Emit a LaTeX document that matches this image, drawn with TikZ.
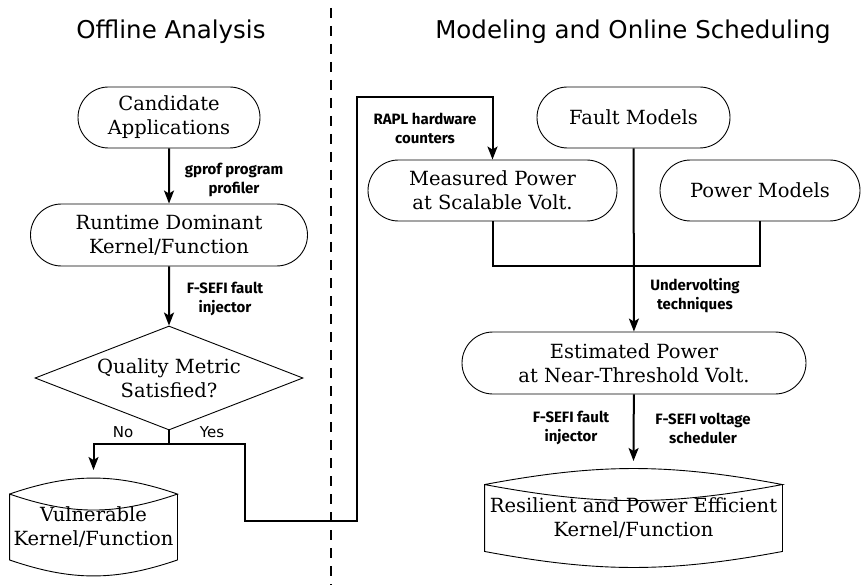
\documentclass[tikz,border=0pt]{standalone}
\usepackage{fontspec}
\setmainfont{DejaVu Serif}
\setsansfont{DejaVu Sans}
\newfontfamily\notefont{Fira Sans}
\usetikzlibrary{arrows.meta,shapes.misc,shapes.geometric}

\tikzset{
  box/.style={draw, line width=0.9pt, align=center, inner sep=0pt,
    font=\fontsize{19.5}{24}\selectfont},
  stadium/.style={box, rounded rectangle},
  decision/.style={box, diamond, aspect=2.58},
  store/.style={box, rectangle, draw=none},
  link/.style={line width=2pt},
  flow/.style={link, -{Stealth[length=13pt,width=10pt,inset=3pt]}},
  note/.style={align=center, font=\notefont\bfseries\fontsize{15}{19}\selectfont},
  branch/.style={font=\sffamily\fontsize{15}{18}\selectfont},
  heading/.style={font=\sffamily\fontsize{24.5}{28}\selectfont},
}

\begin{document}
\begin{tikzpicture}[x=1pt,y=-1pt]
  \useasboundingbox (0,0) rectangle (861,585);

  % the two halves
  \node[heading] (offline) at (171,32) {Offline Analysis};
  \node[heading] (online) at (633,32) {Modeling and Online Scheduling};
  \draw[line width=2pt, dash pattern=on 10pt off 8pt] (331,8) -- (331,585);

  % offline side
  \node[stadium, minimum width=182pt, minimum height=61pt] (cand) at (169,117.5) {Candidate\\Applications};
  \node[stadium, minimum width=277pt, minimum height=62pt] (runtime) at (169,235) {Runtime Dominant\\Kernel/Function};
  \node[decision, minimum width=268pt, minimum height=104pt] (quality) at (169,378) {Quality Metric\\Satisfied?};
  \node[store, minimum width=167pt, minimum height=65pt] (vuln) at (93.5,527) {Vulnerable\\Kernel/Function};

  % online side
  \node[stadium, minimum width=193pt, minimum height=61pt] (fault) at (633.5,117.5) {Fault Models};
  \node[stadium, minimum width=249pt, minimum height=61pt] (measured) at (492.5,190.5) {Measured Power\\at Scalable Volt.};
  \node[stadium, minimum width=200pt, minimum height=61pt] (power) at (760,190.5) {Power Models};
  \node[stadium, minimum width=344pt, minimum height=62pt] (estimated) at (634,363) {Estimated Power\\at Near-Threshold Volt.};
  \node[store, minimum width=297pt, minimum height=66pt] (resil) at (633.5,518) {Resilient and Power Efficient\\Kernel/Function};

  % curved tops and bottoms of the stores, lifted above the text
  \foreach \n/\b/\up in {vuln/19/7.5,resil/10.6/8}{
    \draw[line width=0.9pt, shift={(0,-\up)}] (\n.north west) to[bend left=\b] (\n.north east)
      to[bend left=\b] (\n.north west) -- (\n.south west)
      to[bend right=\b] (\n.south east) -- (\n.north east);
  }
  \coordinate (vtop) at (93.5,470);
  \coordinate (rtop) at (633.5,461);

  % connectors
  \coordinate (split) at (169,444);
  \coordinate (yesdrop) at (245,521);
  \coordinate (rapl) at (357,97);
  \draw[flow] (cand) -- (runtime);
  \draw[flow] (runtime) -- (quality);
  \draw[link] (quality.south) -- (split);
  \draw[flow] (split) -| (vtop);
  \draw[flow] (split) -| (yesdrop) -| (rapl) -| (measured.north);
  \draw[link] (measured.south) -- ++(0,45) -| (power.south);
  \draw[flow] (fault) -- (estimated);
  \draw[flow] (estimated) -- (rtop);

  % labels on the connectors
  \node[note] (gprof) at (234,180) {gprof program\\profiler};
  \node[note] (inject) at (225,299) {F-SEFI fault\\injector};
  \node[note] (rapllbl) at (425,128) {RAPL hardware\\counters};
  \node[note] (underv) at (695,296) {Undervolting\\techniques};
  \node[note] (inject2) at (571,428) {F-SEFI fault\\injector};
  \node[note] (sched) at (703,428) {F-SEFI voltage\\scheduler};
  \node[branch] (no) at (123,432) {No};
  \node[branch] (yes) at (212,432) {Yes};
\end{tikzpicture}
\end{document}
